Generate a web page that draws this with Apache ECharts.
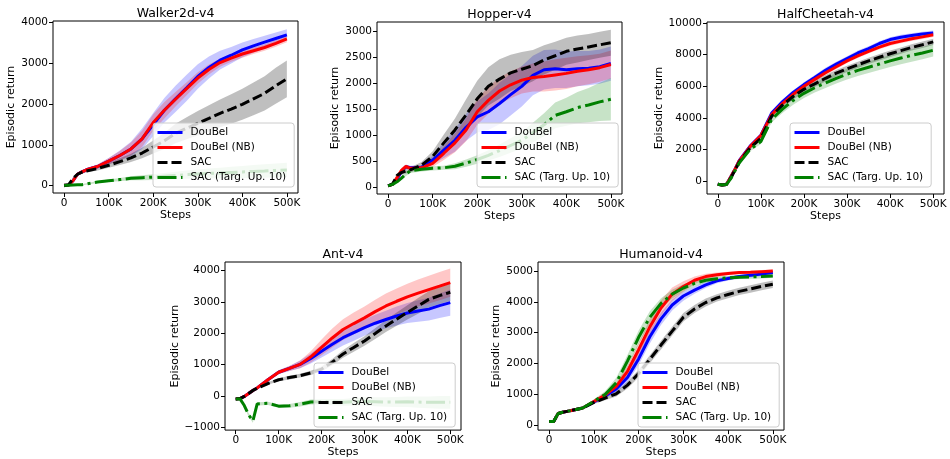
<!DOCTYPE html>
<html>
<head>
<meta charset="utf-8">
<title>Episodic return curves</title>
<script src="https://cdn.jsdelivr.net/npm/echarts@6/dist/echarts.min.js"></script>
<style>
  html, body { margin: 0; padding: 0; background: #fff; }
  #chart { width: 950px; height: 459px; }
</style>
</head>
<body>
<div id="chart"></div>
<script>
// training steps shared by every environment
const steps = [0, 10000, 20000, 30000, 40000, 50000, 75000, 100000, 125000, 150000, 175000, 200000,
  225000, 250000, 275000, 300000, 325000, 350000, 375000, 400000, 425000, 450000, 475000, 500000];

const methods = ['DouBel', 'DouBel (NB)', 'SAC', 'SAC (Targ. Up. 10)'];
const envTitles = ['Walker2d-v4', 'Hopper-v4', 'HalfCheetah-v4', 'Ant-v4', 'Humanoid-v4'];
const xTicks = [0, 100000, 200000, 300000, 400000, 500000];

// Walker2d-v4
const walkerDouBel = [10, 15, 120, 280, 340, 390, 470, 600, 740, 900, 1150, 1500, 1850, 2130, 2400, 2680, 2900, 3080, 3200, 3330, 3430, 3520, 3610, 3700];
const walkerDouBelStd = [10, 10, 30, 40, 40, 40, 50, 80, 120, 180, 250, 280, 300, 320, 320, 300, 270, 230, 200, 180, 170, 160, 150, 140];
const walkerNB = [10, 15, 120, 280, 340, 390, 470, 600, 740, 900, 1150, 1550, 1850, 2120, 2380, 2640, 2850, 3020, 3130, 3230, 3310, 3390, 3490, 3600];
const walkerNBStd = [10, 10, 30, 40, 40, 40, 50, 80, 110, 160, 200, 200, 200, 180, 160, 140, 120, 100, 90, 90, 80, 80, 80, 80];
const walkerSAC = [0, 20, 180, 280, 330, 360, 420, 500, 590, 680, 800, 950, 1100, 1280, 1410, 1530, 1650, 1775, 1880, 1995, 2130, 2265, 2450, 2620];
const walkerSACStd = [0, 10, 30, 40, 40, 40, 50, 60, 80, 100, 130, 160, 200, 240, 270, 300, 320, 340, 360, 380, 400, 420, 440, 450];
const walkerTarg = [10, 10, 15, 20, 25, 40, 90, 120, 150, 180, 195, 210, 230, 250, 270, 285, 300, 310, 325, 335, 350, 360, 375, 385];
const walkerTargStd = [10, 10, 10, 15, 15, 20, 25, 30, 40, 50, 60, 70, 80, 90, 100, 110, 120, 130, 140, 150, 160, 165, 170, 175];
const walkerYTicks = [0, 1000, 2000, 3000, 4000];

// Hopper-v4
const hopperDouBel = [20, 50, 150, 300, 390, 370, 380, 520, 710, 900, 1150, 1350, 1450, 1610, 1780, 1940, 2150, 2260, 2280, 2260, 2280, 2290, 2320, 2380];
const hopperDouBelStd = [10, 20, 40, 50, 40, 40, 40, 80, 150, 220, 260, 300, 350, 400, 400, 390, 380, 380, 370, 350, 340, 330, 330, 330];
const hopperNB = [20, 50, 180, 320, 395, 360, 370, 455, 650, 850, 1100, 1450, 1670, 1850, 1970, 2060, 2110, 2130, 2160, 2190, 2230, 2260, 2300, 2360];
const hopperNBStd = [10, 20, 40, 50, 40, 40, 40, 70, 130, 180, 220, 250, 260, 260, 260, 260, 270, 290, 300, 300, 290, 280, 270, 270];
const hopperSAC = [20, 60, 220, 280, 310, 330, 420, 590, 850, 1100, 1390, 1700, 1940, 2080, 2200, 2270, 2340, 2450, 2530, 2615, 2660, 2700, 2740, 2780];
const hopperSACStd = [10, 20, 40, 50, 50, 50, 60, 100, 160, 220, 300, 350, 370, 380, 350, 330, 300, 280, 270, 260, 260, 250, 250, 250];
const hopperTarg = [20, 50, 100, 170, 250, 310, 340, 360, 370, 400, 460, 530, 610, 700, 800, 900, 1050, 1200, 1380, 1450, 1530, 1580, 1640, 1690];
const hopperTargStd = [10, 15, 20, 30, 40, 40, 40, 40, 40, 60, 70, 80, 100, 120, 140, 160, 190, 220, 250, 270, 300, 330, 370, 410];
const hopperYTicks = [0, 500, 1000, 1500, 2000, 2500, 3000];

// HalfCheetah-v4
const cheetahDouBel = [-200, -250, -220, 250, 750, 1300, 2210, 2900, 4300, 5010, 5600, 6100, 6550, 7010, 7400, 7750, 8100, 8380, 8700, 8950, 9100, 9200, 9300, 9370];
const cheetahDouBelStd = [50, 50, 60, 80, 100, 100, 100, 100, 120, 150, 150, 150, 150, 150, 150, 150, 150, 150, 150, 150, 150, 150, 150, 150];
const cheetahNB = [-200, -250, -220, 250, 750, 1280, 2180, 2880, 4200, 4900, 5480, 6000, 6430, 6850, 7230, 7600, 7920, 8200, 8470, 8700, 8850, 9000, 9120, 9250];
const cheetahNBStd = [50, 50, 60, 80, 100, 100, 100, 100, 120, 130, 140, 140, 140, 140, 140, 140, 140, 140, 140, 140, 140, 140, 140, 140];
const cheetahSAC = [-200, -250, -220, 180, 700, 1200, 2100, 2700, 4100, 4800, 5350, 5800, 6150, 6500, 6820, 7100, 7350, 7600, 7830, 8050, 8250, 8450, 8620, 8800];
const cheetahSACStd = [50, 50, 60, 80, 100, 100, 100, 120, 150, 180, 200, 200, 200, 200, 200, 200, 200, 200, 200, 200, 200, 200, 200, 200];
const cheetahTarg = [-200, -250, -220, 150, 650, 1150, 2000, 2500, 3900, 4550, 5100, 5550, 5900, 6200, 6500, 6760, 7000, 7200, 7400, 7600, 7780, 7950, 8100, 8270];
const cheetahTargStd = [50, 50, 60, 80, 100, 100, 120, 150, 200, 250, 280, 300, 300, 320, 330, 340, 350, 360, 370, 380, 390, 400, 400, 400];
const cheetahYTicks = [0, 2000, 4000, 6000, 8000, 10000];

// Ant-v4
const antDouBel = [-90, -80, -10, 80, 180, 260, 520, 760, 880, 1010, 1200, 1430, 1650, 1860, 2020, 2180, 2320, 2440, 2550, 2645, 2710, 2770, 2880, 2975];
const antDouBelStd = [20, 20, 20, 20, 30, 30, 40, 60, 80, 120, 160, 200, 230, 250, 260, 260, 270, 280, 300, 320, 340, 360, 390, 420];
const antNB = [-90, -80, -10, 80, 180, 260, 520, 760, 880, 1010, 1250, 1550, 1850, 2120, 2310, 2490, 2690, 2870, 3020, 3160, 3280, 3390, 3500, 3615];
const antNBStd = [20, 20, 20, 20, 30, 30, 40, 60, 80, 120, 180, 250, 300, 330, 350, 360, 380, 400, 410, 420, 430, 440, 450, 450];
const antSAC = [-90, -80, -10, 80, 180, 250, 400, 520, 590, 650, 740, 860, 1080, 1340, 1550, 1755, 1990, 2230, 2450, 2665, 2870, 3080, 3200, 3305];
const antSACStd = [20, 20, 20, 20, 30, 30, 40, 50, 60, 60, 70, 80, 100, 120, 140, 150, 170, 190, 210, 230, 250, 260, 270, 280];
const antTarg = [-90, -90, -300, -600, -790, -250, -230, -320, -310, -260, -190, -180, -190, -200, -180, -170, -180, -190, -190, -180, -190, -200, -200, -200];
const antTargStd = [20, 20, 40, 60, 60, 50, 50, 50, 60, 70, 80, 90, 100, 110, 120, 130, 140, 150, 160, 170, 180, 190, 200, 200];
const antYTicks = [-1000, 0, 1000, 2000, 3000, 4000];

// Humanoid-v4
const humanoidDouBel = [120, 120, 380, 420, 450, 480, 560, 760, 950, 1180, 1550, 2150, 2870, 3450, 3900, 4190, 4380, 4550, 4680, 4760, 4820, 4860, 4900, 4950];
const humanoidDouBelStd = [20, 20, 30, 30, 30, 30, 40, 50, 80, 120, 160, 200, 220, 200, 180, 150, 120, 100, 80, 70, 60, 60, 60, 60];
const humanoidNB = [120, 120, 380, 420, 450, 480, 560, 770, 980, 1260, 1750, 2450, 3190, 3800, 4250, 4500, 4700, 4820, 4880, 4920, 4950, 4960, 4980, 5000];
const humanoidNBStd = [20, 20, 30, 30, 30, 30, 40, 50, 80, 120, 180, 220, 250, 250, 220, 170, 120, 90, 70, 60, 50, 50, 50, 50];
const humanoidSAC = [120, 120, 380, 420, 450, 480, 560, 740, 880, 1020, 1300, 1680, 2140, 2600, 3050, 3500, 3770, 3980, 4130, 4240, 4340, 4420, 4500, 4570];
const humanoidSACStd = [20, 20, 30, 30, 30, 30, 40, 50, 70, 90, 110, 120, 130, 140, 140, 140, 130, 130, 120, 120, 120, 120, 120, 120];
const humanoidTarg = [120, 120, 380, 420, 450, 480, 560, 780, 1000, 1380, 2080, 2850, 3500, 3950, 4250, 4450, 4600, 4700, 4750, 4780, 4800, 4810, 4820, 4840];
const humanoidTargStd = [20, 20, 30, 30, 30, 30, 40, 60, 100, 160, 200, 220, 200, 170, 140, 120, 100, 80, 70, 60, 60, 60, 60, 60];
const humanoidYTicks = [0, 1000, 2000, 3000, 4000, 5000];

const envMeans = [
  [walkerDouBel, walkerNB, walkerSAC, walkerTarg],
  [hopperDouBel, hopperNB, hopperSAC, hopperTarg],
  [cheetahDouBel, cheetahNB, cheetahSAC, cheetahTarg],
  [antDouBel, antNB, antSAC, antTarg],
  [humanoidDouBel, humanoidNB, humanoidSAC, humanoidTarg]
];
const envStds = [
  [walkerDouBelStd, walkerNBStd, walkerSACStd, walkerTargStd],
  [hopperDouBelStd, hopperNBStd, hopperSACStd, hopperTargStd],
  [cheetahDouBelStd, cheetahNBStd, cheetahSACStd, cheetahTargStd],
  [antDouBelStd, antNBStd, antSACStd, antTargStd],
  [humanoidDouBelStd, humanoidNBStd, humanoidSACStd, humanoidTargStd]
];
const envYTicks = [walkerYTicks, hopperYTicks, cheetahYTicks, antYTicks, humanoidYTicks];

// layout of each panel (pixels) and the padded axis ranges
const panels = [
  { left: 53, top: 21, width: 245, height: 172, yMin: -180, yMax: 4040, legendLeft: 153, legendTop: 123 },
  { left: 377, top: 22, width: 245, height: 172, yMin: -135, yMax: 3180, legendLeft: 477, legendTop: 123 },
  { left: 707, top: 22, width: 237, height: 172, yMin: -820, yMax: 10060, legendLeft: 790, legendTop: 123 },
  { left: 225, top: 262, width: 236, height: 172, yMin: -1083, yMax: 4270, legendLeft: 314, legendTop: 363 },
  { left: 538, top: 262, width: 246, height: 173, yMin: -157, yMax: 5293, legendLeft: 638, legendTop: 363 }
];

const lineColors = ['#0000ff', '#ff0000', '#000000', '#008000'];
const bandColors = ['rgba(0,0,255,0.22)', 'rgba(255,0,0,0.22)', 'rgba(0,0,0,0.25)', 'rgba(0,128,0,0.22)'];
const lineTypes = ['solid', 'solid', [10, 4], [19, 4.5, 3, 4.5]];

const fontFamily = 'DejaVu Sans';

const fmtY = (v) => (v < 0 ? '\u2212' + Math.abs(v) : String(v));
const fmtX = (v) => (v === 0 ? '0' : v / 1000 + 'K');

const grids = [];
const xAxes = [];
const yAxes = [];
const titles = [];
const legends = [];
const series = [];

// one polygon per band: upper edge left to right, lower edge back
const bandRenderer = (mean, sd, color) => (params, api) => {
  if (params.dataIndex !== 0) return null;
  const upper = steps.map((s, j) => api.coord([s, mean[j] + sd[j]]));
  const lower = steps.map((s, j) => api.coord([s, mean[j] - sd[j]])).reverse();
  return {
    type: 'polygon',
    shape: { points: upper.concat(lower) },
    style: { fill: color, stroke: null }
  };
};

panels.forEach((p, i) => {
  grids.push({
    left: p.left, top: p.top, width: p.width, height: p.height,
    show: true, borderColor: '#000', borderWidth: 1, backgroundColor: 'transparent'
  });

  xAxes.push({
    type: 'value', gridIndex: i, min: -25000, max: 525000,
    name: 'Steps', nameLocation: 'middle', nameGap: 16,
    nameTextStyle: { fontSize: 11, color: '#000', fontFamily },
    axisLine: { show: false, onZero: false },
    axisTick: { show: true, length: 4, customValues: xTicks, lineStyle: { color: '#000' } },
    axisLabel: { customValues: xTicks, formatter: fmtX, fontSize: 10.5, color: '#000', margin: 5, fontFamily },
    splitLine: { show: false }
  });

  yAxes.push({
    type: 'value', gridIndex: i, min: p.yMin, max: p.yMax,
    name: 'Episodic return', nameLocation: 'middle', nameGap: 36,
    nameTextStyle: { fontSize: 11, color: '#000', fontFamily },
    axisLine: { show: false, onZero: false },
    axisTick: { show: true, length: 4, customValues: envYTicks[i], lineStyle: { color: '#000' } },
    axisLabel: { customValues: envYTicks[i], formatter: fmtY, fontSize: 10.5, color: '#000', margin: 5, fontFamily },
    splitLine: { show: false }
  });

  titles.push({
    text: envTitles[i], left: p.left + p.width / 2, top: p.top - 14, textAlign: 'center', padding: 0,
    textStyle: { fontSize: 12.5, fontWeight: 'normal', color: '#000', fontFamily }
  });

  legends.push({
    data: methods, left: p.legendLeft, top: p.legendTop, orient: 'vertical',
    itemWidth: 25, itemHeight: 11, itemGap: 4, padding: [4, 8, 4, 3],
    backgroundColor: 'rgba(255,255,255,0.8)', borderColor: '#cccccc', borderWidth: 1, borderRadius: 3,
    selectedMode: false,
    itemStyle: { opacity: 0 },
    lineStyle: { width: 3 },
    textStyle: { fontSize: 10.5, color: '#000', fontFamily, padding: [0, 0, 0, 3] }
  });

  // shaded std bands first, lines on top
  methods.forEach((m, k) => {
    const mean = envMeans[i][k];
    const sd = envStds[i][k];
    series.push({
      name: 'band ' + i + '-' + k, type: 'custom', xAxisIndex: i, yAxisIndex: i,
      silent: true, z: 1, clip: true,
      renderItem: bandRenderer(mean, sd, bandColors[k]),
      encode: { x: 0, y: [1, 2] },
      data: steps.map((s, j) => [s, mean[j] - sd[j], mean[j] + sd[j]])
    });
  });
  methods.forEach((m, k) => {
    const mean = envMeans[i][k];
    series.push({
      name: m, type: 'line', xAxisIndex: i, yAxisIndex: i,
      symbol: 'none', showSymbol: false, silent: true, z: 3,
      itemStyle: { color: lineColors[k] },
      lineStyle: { color: lineColors[k], width: 3, type: lineTypes[k] },
      data: steps.map((s, j) => [s, mean[j]])
    });
  });
});

const chart = echarts.init(document.getElementById('chart'), null, { renderer: 'canvas' });
chart.setOption({
  animation: false,
  backgroundColor: '#fff',
  textStyle: { fontFamily },
  title: titles,
  legend: legends,
  grid: grids,
  xAxis: xAxes,
  yAxis: yAxes,
  series: series
});
window.addEventListener('resize', () => chart.resize());
</script>
</body>
</html>
